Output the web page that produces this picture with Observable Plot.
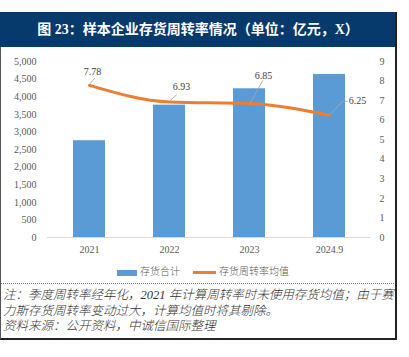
<!DOCTYPE html>
<html><head><meta charset="utf-8">
<script src="https://cdn.jsdelivr.net/npm/d3@7"></script>
<script src="https://cdn.jsdelivr.net/npm/@observablehq/plot@0.6"></script>
<style>
body{margin:0;background:#fff;}
#wrap{position:relative;width:409px;height:357px;overflow:hidden;background:#fff;}
#title{position:absolute;left:0;top:12px;width:396px;height:35px;background:#063a6d;color:#fff;font:bold 14px "Liberation Serif","Noto Sans CJK SC";line-height:35px;text-align:center;white-space:nowrap;}
#chart{position:absolute;left:0;top:47px;}
#legend{position:absolute;left:0;top:265px;width:409px;font:300 10px "Liberation Serif","Noto Sans CJK SC";color:#595959;}
.item{position:absolute;top:0;white-space:nowrap;line-height:14px;}
.sw{display:inline-block;vertical-align:middle;margin-right:3px;}
#sep{position:absolute;left:0;top:283px;width:396px;border-top:1px dotted #777;}
#note{position:absolute;left:3px;top:288px;font:italic 300 12.5px "Liberation Serif","Noto Sans CJK SC";color:#333;line-height:15.5px;white-space:nowrap;}
#rb{position:absolute;left:395px;top:12px;width:1.5px;height:327px;background:#222;}
#bb{position:absolute;left:0;top:338px;width:397px;height:1.5px;background:#222;}
#lb{position:absolute;left:0;top:47px;width:1px;height:292px;background:#555;}
</style></head>
<body><div id="wrap">
<div id="title">图 23：样本企业存货周转率情况（单位：亿元，X）</div>
<div id="chart"></div>
<div id="legend">
 <div class="item" style="left:117px"><span class="sw" style="width:20px;height:6px;background:#5B9BD5"></span>存货合计</div>
 <div class="item" style="left:193px"><span class="sw" style="width:23px;height:3px;background:#ED7D31"></span>存货周转率均值</div>
</div>
<div id="sep"></div>
<div id="note">注：季度周转率经年化，2021 年计算周转率时未使用存货均值；由于赛<br>力斯存货周转率变动过大，计算均值时将其剔除。<br>资料来源：公开资料，中诚信国际整理</div>
<div id="rb"></div><div id="bb"></div><div id="lb"></div>
</div>
<script>
const years = ["2021", "2022", "2023", "2024.9"];
const inventory = [2750, 3760, 4225, 4630];
const turnover = [7.78, 6.93, 6.85, 6.25];
const leftTicks = [0, 500, 1000, 1500, 2000, 2500, 3000, 3500, 4000, 4500, 5000];
const rightTicks = [0, 1, 2, 3, 4, 5, 6, 7, 8, 9];

const K = 5000 / 9; // right axis (0-9) mapped onto left (0-5000)
const data = years.map((year, i) => ({year, inv: inventory[i], rate: turnover[i]}));

// label placement (pixels relative to each point)
const labelPos = [{dx: 3, dy: -14}, {dx: 12, dy: -15}, {dx: 14, dy: -28}, {dx: 28, dy: -14}];
const leaders = [
  [{dx: 0, dy: -1, len: 7.8, rot: 40}],
  [{dx: 0, dy: -1, len: 9.2, rot: 49}],
  [{dx: 1, dy: -1, len: 25, rot: 29}],
  [{dx: 1, dy: -1, len: 17.7, rot: 43}, {dx: 13, dy: -14, len: 5, rot: 90}]
];
const lineShape = {draw(ctx, l) { ctx.moveTo(0, 0); ctx.lineTo(0, -l); }};

const marks = [
  Plot.barY(data, {x: "year", y: "inv", fill: "#5B9BD5"}),
  Plot.ruleY([0], {stroke: "#d9d9d9"}),
  Plot.axisY({ticks: leftTicks, tickFormat: d3.format(","), tickSize: 0, tickPadding: 11, label: null}),
  Plot.axisY({anchor: "right", ticks: rightTicks.map(v => v * K), tickFormat: d => String(Math.round(d / K)), tickSize: 0, tickPadding: 9, label: null}),
  Plot.axisX({tickSize: 0, tickPadding: 8, label: null}),
  Plot.line(data, {x: "year", y: d => d.rate * K, stroke: "#ED7D31", strokeWidth: 3, curve: "monotone-x"})
];
data.forEach((d, i) => {
  leaders[i].forEach(s => {
    marks.push(Plot.vector([d], {x: "year", y: e => e.rate * K, length: () => s.len, rotate: s.rot, anchor: "start",
      shape: lineShape, dx: s.dx, dy: s.dy, stroke: "#a6a6a6", strokeWidth: 0.8}));
  });
  marks.push(Plot.text([d], {x: "year", y: e => e.rate * K, text: e => e.rate.toFixed(2),
    dx: labelPos[i].dx, dy: labelPos[i].dy, fill: "#404040", fontSize: 10}));
});

const chart = Plot.plot({
  width: 409, height: 215,
  marginTop: 14, marginBottom: 25, marginLeft: 47, marginRight: 39,
  style: {fontFamily: "'Liberation Serif'", fontSize: "10px", color: "#595959", background: "transparent"},
  x: {type: "band", domain: years, paddingInner: 0.6, paddingOuter: 0.3},
  y: {domain: [0, 5000]},
  length: {type: "identity"},
  marks
});
document.getElementById("chart").appendChild(chart);
</script>
</body></html>
